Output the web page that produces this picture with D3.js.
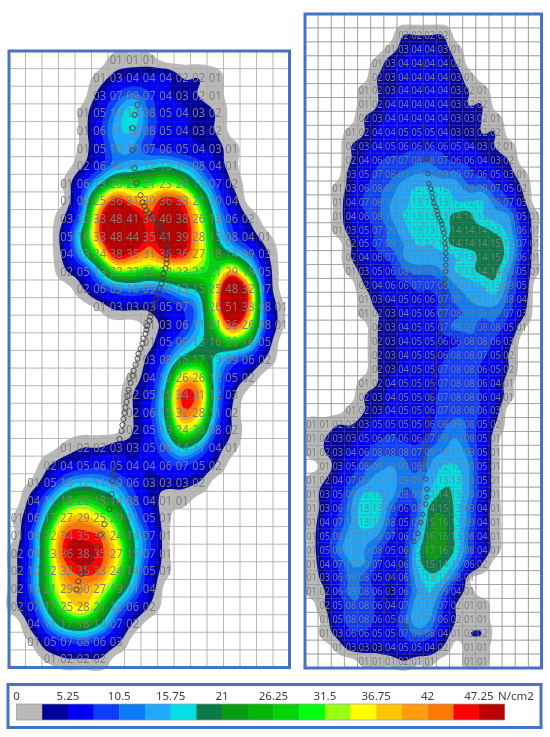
<!DOCTYPE html>
<html><head><meta charset="utf-8">
<script src="https://cdnjs.cloudflare.com/ajax/libs/d3/7.8.5/d3.min.js"></script>
<style>html,body{margin:0;padding:0;background:#fff}svg{display:block;filter:blur(.5px)}</style>
</head><body><svg id="c" width="550" height="737"></svg>
<script>
// start column + sensor readings (N/cm2), row by row
const leftRows = [
[6,[1,1,1]],[5,[1,3,4,4,4,2,2,1]],[5,[3,7,9,7,4,3,2,1]],[4,[1,5,10,13,8,5,4,3,2]],[4,[1,6,11,12,8,5,4,3,2]],
[4,[1,5,10,10,7,6,5,4,3,1]],[4,[2,6,10,11,12,13,11,8,4,1]],[3,[1,6,13,20,20,21,23,20,13,7,2]],[3,[1,9,25,36,31,30,36,33,21,10,4]],
[3,[3,12,33,48,41,34,40,38,26,13,6,2]],[3,[5,16,33,48,44,35,41,39,28,15,8,4,1]],[3,[4,13,24,38,35,31,36,36,27,18,14,9,3]],
[3,[2,5,13,22,22,20,22,23,22,21,29,18,5]],[4,[2,6,9,10,9,10,13,15,25,48,32,7]],[5,[1,3,3,3,5,7,11,26,51,33,8,1]],
[8,[1,3,6,11,21,36,26,8,1]],[8,[1,5,9,13,16,20,16,5]],[8,[3,8,15,17,13,9,6,2]],[7,[1,4,12,26,26,12,5,2]],[7,[2,5,15,34,31,12,3]],
[7,[2,6,15,32,28,11,2]],[7,[2,5,13,24,20,8,2]],[3,[1,2,2,3,3,5,9,14,11,4,1]],[2,[2,4,5,6,5,4,4,6,7,5,2]],[1,[1,5,10,12,11,9,6,3,3,3,2]],
[1,[4,11,18,20,18,14,8,4,1,1]],[0,[1,6,17,27,29,25,20,11,5,1]],[0,[1,9,22,34,35,33,24,14,7,1]],[0,[2,9,23,36,38,35,27,15,7,1]],
[0,[2,10,22,32,35,33,24,14,5,1]],[0,[2,10,21,29,30,27,19,11,4]],[0,[2,7,17,25,28,21,12,6,2]],[1,[4,11,17,18,14,7,2]],[1,[1,5,7,8,6,3]],[2,[1,2,2,2]]
];
const rightRows = [
[0,[]],[7,[2,2,2,2]],[6,[1,3,4,4,3,1]],[5,[1,3,4,4,4,4,2]],[5,[2,3,4,4,4,4,3,1]],[4,[1,2,3,4,4,4,4,3,2,1]],[4,[1,2,4,4,4,4,4,3,2,2]],
[4,[2,3,4,4,4,4,4,3,3,2,1]],[3,[1,2,4,4,5,5,5,4,3,3,2,2]],[3,[2,3,4,5,6,6,6,6,5,4,3,2,1]],[3,[2,4,6,7,7,8,8,7,6,6,4,3,2]],
[3,[3,5,7,8,9,10,10,9,9,7,6,5,3,1]],[2,[1,3,6,8,9,11,12,12,12,11,9,9,7,5,2]],[2,[1,4,7,8,10,11,13,13,13,12,12,12,9,7,3]],
[2,[1,4,6,8,10,12,13,13,13,14,14,12,11,10,5,1]],[2,[1,3,5,7,9,11,13,13,13,14,14,14,13,11,6,1]],[3,[2,5,7,9,10,12,12,13,14,14,14,15,12,7,1]],
[3,[2,4,6,7,10,11,11,11,12,13,14,15,12,6,1]],[3,[1,3,5,6,8,9,9,10,12,13,14,14,10,5,1]],[4,[2,4,6,6,7,7,8,10,11,12,13,9,5]],
[4,[1,3,4,5,6,6,7,9,10,11,11,8,4]],[4,[1,2,3,4,5,6,7,8,9,9,9,7,3]],[5,[2,3,4,5,5,7,9,9,8,8,5,1]],[5,[2,3,4,5,5,6,6,8,8,6,3]],
[5,[2,3,4,5,5,6,8,8,7,5,2]],[5,[2,3,4,5,5,7,8,8,6,5,2]],[4,[1,2,4,5,5,5,7,8,8,6,4,1]],[4,[2,3,4,5,5,6,7,8,8,6,4,1]],[3,[1,2,3,4,5,5,6,7,8,8,6,3]],
[0,[1,1,2,2,3,5,5,5,5,6,8,9,8,5,2]],[0,[1,2,3,3,5,6,7,6,6,7,9,10,8,5,1]],[0,[1,2,3,4,6,8,8,8,7,9,10,11,9,5,1]],[1,[1,3,5,8,9,10,9,8,10,12,12,10,5,1]],
[0,[1,2,4,7,9,11,11,9,9,11,13,13,10,5,1]],[0,[1,3,5,9,12,12,11,8,9,12,14,13,10,5,1]],[0,[1,3,6,10,13,13,9,6,8,14,15,13,9,4,1]],
[0,[1,4,7,10,13,12,8,5,9,15,16,13,9,4,1]],[0,[1,5,8,11,11,10,7,6,10,16,16,13,8,4,1]],[0,[1,5,9,11,10,8,5,6,12,17,16,13,8,4,1]],
[0,[1,4,7,10,10,7,4,6,12,15,14,11,6,2]],[0,[1,3,6,9,8,5,4,6,11,13,12,8,1]],[0,[1,2,6,9,8,6,3,6,10,12,9,4,1]],[1,[2,5,8,8,6,4,7,11,11,7,2,1,1]],
[1,[1,5,8,8,6,5,8,11,10,6,2,1,1]],[1,[1,3,6,6,5,5,7,9,8,4,1,2,2]],[2,[1,3,3,3,4,5,5,4,2,0,1,1]],[4,[1,1,1,2,1,1,0,0,1,1]]
];
// centre-of-pressure trail in sensor-grid units [column,row]
const leftTrail = [[7.29,2.56],[7.11,3.13],[6.99,3.87],[6.99,5.13],[7.11,6.15],[7.23,7],[7.47,7.69],[7.59,8.09],[7.71,8.31],[7.83,8.54],[8.01,8.71],[8.14,8.83],[8.32,9.05],[8.44,9.23],[8.62,9.4],[8.74,9.57],[8.86,9.79],[8.98,10.08],[9.05,10.31],[9.11,10.65],[9.11,10.88],[9.05,11.1],[9.05,11.33],[9.05,11.56],[8.98,11.85],[8.86,12.13],[8.8,12.41],[8.74,12.7],[8.62,12.98],[8.5,13.27],[8.44,13.55],[8.32,13.84],[8.26,14.07],[8.14,14.35],[8.07,14.58],[8.01,14.81],[7.89,15.09],[7.83,15.32],[7.77,15.55],[7.65,15.83],[7.59,16.11],[7.47,16.4],[7.35,16.69],[7.29,16.97],[7.17,17.31],[7.05,17.65],[6.99,17.94],[6.87,18.34],[6.75,18.74],[6.68,19.08],[6.62,19.42],[6.56,19.74],[6.5,20.05],[6.44,20.39],[6.38,20.73],[6.32,21.07],[6.2,21.53],[6.08,22.04],[5.96,22.61],[5.9,23.18],[5.84,23.55],[5.78,23.92],[5.71,24.66],[5.59,25.51],[5.29,26.37],[5.05,26.98],[4.86,27.62],[4.6,28.05],[4.37,28.47],[4.13,28.85],[3.89,29.21],[3.7,29.6],[3.59,30.07]];
const rightTrail = [[8.93,2.32],[8.62,2.97],[8.47,3.33],[8.4,4.84],[8.4,6.07],[8.55,7.52],[8.7,8.74],[8.78,9.9],[8.85,10.98],[8.93,11.7],[9.08,12.07],[9.16,12.35],[9.23,12.71],[9.31,13.07],[9.46,13.36],[9.54,13.65],[9.61,13.94],[9.69,14.16],[9.84,14.38],[9.92,14.59],[9.99,14.95],[10.07,15.24],[10.14,15.6],[10.14,15.96],[10.22,16.32],[10.22,16.69],[10.22,17.12],[10.22,17.55],[10.22,17.99],[10.14,18.56],[10.14,18.92],[10.07,19.65],[9.99,20.37],[9.99,21.09],[9.92,21.81],[9.76,22.53],[9.61,23.25],[9.46,23.98],[9.38,24.48],[9.38,24.99],[9.3,25.46],[9.23,25.93],[9.2,26.4],[9.16,26.87],[9.1,27.3],[9.0,28.09],[8.92,28.56],[8.85,29.03],[8.82,29.5],[8.78,30.04],[8.7,30.5],[8.62,30.98],[8.58,31.35],[8.55,31.7],[8.55,32.21],[8.7,32.93],[8.78,33.65],[8.78,34.23],[8.7,34.73],[8.47,35.46],[8.32,36.04],[8.09,36.83],[7.79,37.41],[7.33,38.06],[7.03,38.71],[6.65,39.21],[6.19,39.94],[5.81,40.87],[5.58,41.67],[5.73,42.39],[6.27,43.04],[7.25,43.55]];
// legend
const legendTicks = [0,5.25,10.5,15.75,21,26.25,31.5,36.75,42,47.25];
const legendUnit = "N/cm2";
const bandColors = ["#b9b9b9","#00009c","#0000f2","#0c3cff","#0a7cfa","#1ea8ff","#00e0e6","#0a7a48","#089a10","#00b408","#00d408","#00ff10","#99ff10","#ffff00","#ffc400","#ff9c10","#ff7800","#ff0000","#b80000"];
// levels at which each band starts in the picture, for the readings printed on it
const bandStarts = [0.42,2.05,3.6,6.5,8.5,10,11.9,13.6,15.5,17.5,19,21,22.5,24.5,27.5,29.5,31,33.5,36.2];

const svg = d3.select("#c");
const upsample = 6, pad = 3;

function cubic(a,b,c,d,t){return .5*((2*b)+(-a+c)*t+(2*a-5*b+4*c-d)*t*t+(-a+3*b-3*c+d)*t*t*t);}

function field(rows,nCols){
  const nRows = rows.length;
  const g = (r,c)=>{ if(r<0||r>=nRows) return 0; const [s,v]=rows[r]; const i=c-s; return (i>=0&&i<v.length)?v[i]:0; };
  const w=(nCols-1+2*pad)*upsample+1, h=(nRows-1+2*pad)*upsample+1, out=new Float64Array(w*h);
  for(let j=0;j<h;j++){
    const rf=j/upsample-pad, r0=Math.floor(rf), tr=rf-r0;
    for(let i=0;i<w;i++){
      const cf=i/upsample-pad, c0=Math.floor(cf), tc=cf-c0;
      const col=[-1,0,1,2].map(k=>cubic(g(r0-1,c0+k),g(r0,c0+k),g(r0+1,c0+k),g(r0+2,c0+k),tr));
      out[j*w+i]=cubic(col[0],col[1],col[2],col[3],tc);
    }
  }
  return {w,h,out};
}

function panel(o){
  const {rows,trail,nCols,nRows,x0,x1,y0,y1,fs,tl,r,overOpacity} = o;
  const x = d3.scaleLinear().domain([-.5,nCols-.5]).range([x0,x1]);
  const y = d3.scaleLinear().domain([-.5,nRows-.5]).range([y0,y1]);
  const g = svg.append("g");
  const color = d3.scaleOrdinal().domain(bandStarts).range(bandColors);
  const drawGrid = (stroke,op)=>{
    const gg=g.append("g").attr("stroke",stroke).attr("stroke-opacity",op).attr("stroke-width",1);
    gg.selectAll("line.v").data(d3.range(1,nCols)).join("line").attr("x1",d=>x(d-.5)).attr("x2",d=>x(d-.5)).attr("y1",y0).attr("y2",y1);
    gg.selectAll("line.h").data(d3.range(1,nRows)).join("line").attr("y1",d=>y(d-.5)).attr("y2",d=>y(d-.5)).attr("x1",x0).attr("x2",x1);
  };
  drawGrid("#c4c4c4",1);
  const f = field(rows,nCols);
  const path = d3.geoPath(d3.geoTransform({point(a,b){this.stream.point(x((a-.5)/upsample-pad),y((b-.5)/upsample-pad));}}));
  const cont = d3.contours().size([f.w,f.h]).thresholds(bandStarts)(f.out);
  g.append("g").selectAll("path").data(cont).join("path").attr("d",path).attr("fill",d=>color(d.value));
  drawGrid("#777",overOpacity);
  const cells = rows.flatMap(([s,v],ri)=>v.map((val,i)=>({c:s+i,r:ri,val})).filter(d=>d.val>0));
  g.append("g").attr("font-family","'Noto Sans',sans-serif").attr("font-size",fs).attr("fill","#7e7e7e").attr("text-anchor","middle")
   .selectAll("text").data(cells).join("text").attr("x",d=>x(d.c)).attr("y",d=>y(d.r)).attr("dy",".36em")
   .attr("textLength",tl).attr("lengthAdjust","spacingAndGlyphs").text(d=>d3.format("02d")(d.val));
  g.append("g").attr("fill","none").attr("stroke","#3e3e3e").attr("stroke-opacity",.9).attr("stroke-width",1)
   .selectAll("circle").data(trail).join("circle").attr("cx",d=>x(d[0])).attr("cy",d=>y(d[1])).attr("r",r);
  g.append("rect").attr("x",x0).attr("y",y0).attr("width",x1-x0).attr("height",y1-y0).attr("fill","none").attr("stroke","#4472c4").attr("stroke-width",3);
}

panel({rows:leftRows,trail:leftTrail,nCols:17,nRows:35,x0:9,x1:289.5,y0:51,y1:667.5,fs:13,tl:12.8,r:2.6,overOpacity:.14});
panel({rows:rightRows,trail:rightTrail,nCols:18,nRows:47,x0:305,x1:541.5,y0:14,y1:668,fs:10.8,tl:10.6,r:2.2,overOpacity:.4});

// legend
const lx = d3.scaleLinear().domain([0,47.25]).range([16.5,479]);
const lg = svg.append("g");
lg.append("rect").attr("x",8).attr("y",684.5).attr("width",533).attr("height",43).attr("fill","#fff").attr("stroke","#4472c4").attr("stroke-width",3);
const step = legendTicks[1]/2;
lg.selectAll("rect.b").data(bandColors).join("rect").attr("class","b").attr("x",(d,i)=>lx(i*step)).attr("y",704).attr("width",lx(step)-lx(0)+.3).attr("height",16).attr("fill",d=>d);
lg.append("rect").attr("x",lx(0)).attr("y",704).attr("width",lx(step*19)-lx(0)).attr("height",16).attr("fill","none").attr("stroke","#999").attr("stroke-width",.7);
lg.append("g").attr("font-family","'Noto Sans',sans-serif").attr("font-size",11.5).attr("fill","#3c3c3c").attr("text-anchor","middle")
  .selectAll("text").data(legendTicks).join("text").attr("x",d=>lx(d)).attr("y",700).text(d=>d);
lg.append("text").attr("x",516).attr("y",700).attr("text-anchor","middle").attr("font-family","'Noto Sans',sans-serif").attr("font-size",11.5).attr("fill","#3c3c3c").text(legendUnit);
</script></body></html>
